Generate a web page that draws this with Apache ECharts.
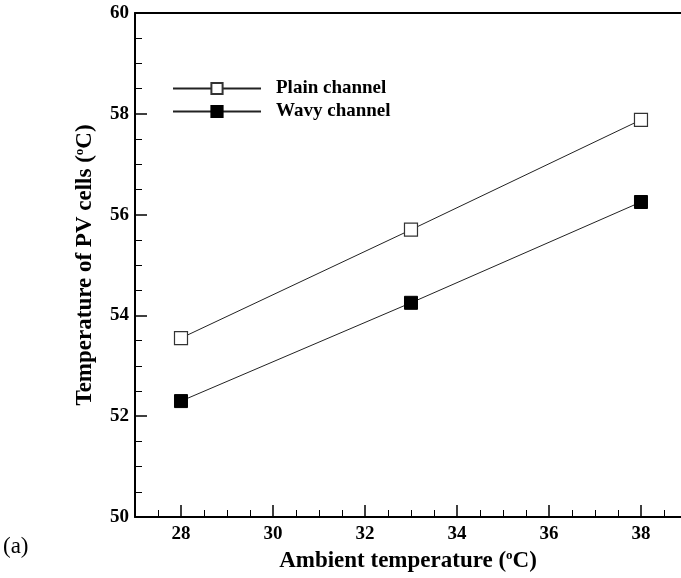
<!DOCTYPE html>
<html>
<head>
<meta charset="utf-8">
<script src="https://cdn.jsdelivr.net/npm/echarts@6/dist/echarts.min.js"></script>
<style>
html,body{margin:0;padding:0;background:#fff;}
#chart{width:681px;height:578px;}
</style>
</head>
<body>
<div id="chart"></div>
<script>
// Data
var ambientTemps = [28, 33, 38];
var plainChannel = [53.55, 55.70, 57.88];
var wavyChannel = [52.30, 54.25, 56.25];
var seriesNames = ['Plain channel', 'Wavy channel'];
var xMajorTicks = [28, 30, 32, 34, 36, 38];
var xMinorTicks = [27.5, 28.5, 29, 29.5, 30.5, 31, 31.5, 32.5, 33, 33.5, 34.5, 35, 35.5, 36.5, 37, 37.5, 38.5];
var xMin = 27, xMax = 38.87;

var FONT = '"Liberation Serif", "DejaVu Serif", serif';

function pairs(xs, ys) { return xs.map(function (x, i) { return [x, ys[i]]; }); }

var supRich = {s: {fontFamily: FONT, fontWeight: 'bold', fontSize: 13, color: '#000', verticalAlign: 'top', padding: [0, 0, 12, 0]}};

var chart = echarts.init(document.getElementById('chart'), null, {renderer: 'canvas'});
var option = {
  animation: false,
  backgroundColor: '#fff',
  grid: {left: 135, top: 13, right: 0, bottom: 60, show: false},
  legend: {
    orient: 'vertical', left: 167, top: 74,
    itemWidth: 88, itemHeight: 14, itemGap: 4,
    data: seriesNames,
    textStyle: {fontFamily: FONT, fontWeight: 'bold', fontSize: 19, color: '#000', padding: [0, 0, 0, 10]}
  },
  xAxis: [{
    type: 'value', min: xMin, max: xMax,
    name: 'Ambient temperature ({s|o}C)',
    nameLocation: 'middle', nameGap: 32,
    nameTextStyle: {fontFamily: FONT, fontWeight: 'bold', fontSize: 23, color: '#000', rich: supRich},
    axisLine: {show: true, onZero: false, lineStyle: {color: '#000', width: 2}},
    axisTick: {show: true, inside: true, length: 12, lineStyle: {color: '#000', width: 1.5}, customValues: xMajorTicks},
    axisLabel: {fontFamily: FONT, fontWeight: 'bold', fontSize: 19, color: '#000', margin: 8, customValues: xMajorTicks},
    splitLine: {show: false}
  }, {
    type: 'value', min: xMin, max: xMax, position: 'bottom',
    axisLine: {show: false},
    axisTick: {show: true, inside: true, length: 7, lineStyle: {color: '#000', width: 1}, customValues: xMinorTicks},
    axisLabel: {show: false},
    splitLine: {show: false}
  }, {
    type: 'value', min: xMin, max: xMax, position: 'top',
    axisLine: {show: true, onZero: false, lineStyle: {color: '#000', width: 2}},
    axisTick: {show: false},
    axisLabel: {show: false},
    splitLine: {show: false}
  }],
  yAxis: {
    type: 'value', min: 50, max: 60, interval: 2,
    name: 'Temperature of PV cells ({s|o}C)',
    nameLocation: 'middle', nameGap: 37,
    nameTextStyle: {fontFamily: FONT, fontWeight: 'bold', fontSize: 23, color: '#000', rich: supRich},
    axisLine: {show: true, onZero: false, lineStyle: {color: '#000', width: 2}},
    axisTick: {show: true, inside: true, length: 12, lineStyle: {color: '#000', width: 1.5}},
    minorTick: {show: true, splitNumber: 4, length: 7, lineStyle: {color: '#000', width: 1}},
    axisLabel: {fontFamily: FONT, fontWeight: 'bold', fontSize: 19, color: '#000', margin: 6},
    splitLine: {show: false},
    minorSplitLine: {show: false}
  },
  series: [{
    name: seriesNames[0], type: 'line', xAxisIndex: 0,
    data: pairs(ambientTemps, plainChannel),
    symbol: 'rect', symbolSize: 13,
    lineStyle: {color: '#222', width: 1},
    itemStyle: {color: '#fff', borderColor: '#333', borderWidth: 1.2}
  }, {
    name: seriesNames[1], type: 'line', xAxisIndex: 0,
    data: pairs(ambientTemps, wavyChannel),
    symbol: 'rect', symbolSize: 13,
    lineStyle: {color: '#222', width: 1},
    itemStyle: {color: '#000', borderColor: '#000', borderWidth: 1}
  }],
  graphic: [{
    type: 'text', left: 3, top: 535,
    style: {text: '(a)', fontFamily: FONT, fontSize: 23, fill: '#000'}
  }]
};
chart.setOption(option);
</script>
</body>
</html>
